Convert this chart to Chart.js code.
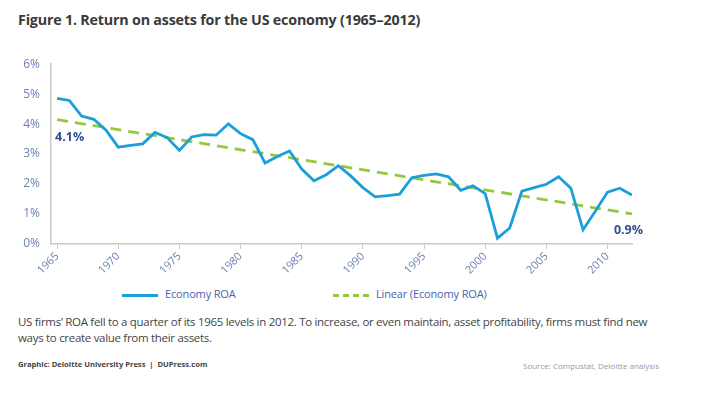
<!DOCTYPE html>
<html>
<head>
<meta charset="utf-8">
<script src="https://cdn.jsdelivr.net/npm/chart.js@4"></script>
<style>
  body { margin: 0; background: #fff; width: 708px; height: 398px; position: relative; overflow: hidden;
         font-family: "Open Sans", sans-serif; }
  #title { position: absolute; left: 18px; top: 10px; font-weight: bold;
           font-size: 14.3px; color: #3a3a3a; letter-spacing: -0.2px; }
  #wrap { position: absolute; left: 0; top: 46px; width: 708px; height: 232px; }
  .leg { position: absolute; top: 286px; font-size: 11px; letter-spacing: -0.15px; color: #4a64a8; }
  .leg span { display: inline-block; width: 36px; height: 0; vertical-align: middle; margin-right: 7px; }
  #caption { position: absolute; left: 18px; top: 314px; font-size: 11.5px; letter-spacing: -0.3px;
             line-height: 15.5px; color: #444; white-space: nowrap; }
  #credit { position: absolute; left: 18px; top: 359px; font-size: 7.6px; font-weight: bold; color: #444; }
  #source { position: absolute; left: 523px; top: 360px; font-size: 8px; color: #999; }
</style>
</head>
<body>
<div id="title">Figure 1. Return on assets for the US economy (1965–2012)</div>
<div id="wrap"><canvas id="myChart"></canvas></div>
<div class="leg" style="left:122px"><span style="border-top:3px solid #1a9fd8"></span>Economy ROA</div>
<div class="leg" style="left:333px"><span style="border-top:3px dashed #95c93d"></span>Linear (Economy ROA)</div>
<div id="caption">US firms’ ROA fell to a quarter of its 1965 levels in 2012. To increase, or even maintain, asset profitability, firms must find new<br>ways to create value from their assets.</div>
<div id="credit">Graphic: Deloitte University Press &nbsp;|&nbsp; DUPress.com</div>
<div id="source">Source: Compustat, Deloitte analysis</div>

<script>
// years 1965 - 2012
const years = [
    1965, 1966, 1967, 1968, 1969, 1970, 1971, 1972, 1973, 1974,
    1975, 1976, 1977, 1978, 1979, 1980, 1981, 1982, 1983, 1984,
    1985, 1986, 1987, 1988, 1989, 1990, 1991, 1992, 1993, 1994,
    1995, 1996, 1997, 1998, 1999, 2000, 2001, 2002, 2003, 2004,
    2005, 2006, 2007, 2008, 2009, 2010, 2011, 2012
];

// Economy ROA in percent
const roa = [
    4.86, 4.79, 4.27, 4.16, 3.80, 3.23, 3.29, 3.34, 3.72, 3.55,
    3.12, 3.57, 3.65, 3.63, 4.01, 3.68, 3.48, 2.70, 2.92, 3.10,
    2.50, 2.11, 2.31, 2.61, 2.27, 1.88, 1.57, 1.61, 1.66, 2.21,
    2.29, 2.34, 2.24, 1.79, 1.94, 1.68, 0.19, 0.53, 1.76, 1.88,
    1.99, 2.24, 1.86, 0.47, 1.09, 1.73, 1.86, 1.63
];

// trend line end points (1965 and 2012), the rest is left empty
const trendStart = 4.15;
const trendEnd = 1.0;
const trend = years.map((y, i) => i === 0 ? trendStart : (i === years.length - 1 ? trendEnd : null));

const xTicks = [1965, 1970, 1975, 1980, 1985, 1990, 1995, 2000, 2005, 2010];
const yTicks = [0, 1, 2, 3, 4, 5, 6];
const axisColor = '#c9c9c9';
const tickColor = '#6b80b4';

// draws the 4.1% / 0.9% labels next to the trend ends
const endLabels = {
    id: 'endLabels',
    afterDatasetsDraw(chart) {
        const {ctx, scales: {x, y}} = chart;
        ctx.save();
        ctx.font = 'bold 12.5px "Open Sans", sans-serif';
        ctx.fillStyle = '#2f4f8f';
        ctx.textBaseline = 'middle';
        ctx.textAlign = 'left';
        ctx.fillText('4.1%', x.getPixelForValue(years[0]) - 2, y.getPixelForValue(trendStart) + 18);
        ctx.textAlign = 'right';
        ctx.fillText('0.9%', x.getPixelForValue(years[years.length - 1]) + 11, y.getPixelForValue(trendEnd) + 17);
        ctx.restore();
    }
};

let ctx = document.getElementById('myChart').getContext('2d');

let myChart = new Chart(ctx, {
    type: 'line',
    data: {
        labels: years,
        datasets: [{
            label: 'Economy ROA',
            data: roa,
            borderColor: '#1a9fd8',
            borderWidth: 2.8,
            pointRadius: 0,
            tension: 0,
            fill: false
        }, {
            label: 'Linear (Economy ROA)',
            data: trend,
            borderColor: '#95c93d',
            borderWidth: 2.8,
            borderDash: [11, 7],
            pointRadius: 0,
            spanGaps: true,
            fill: false
        }]
    },
    options: {
        responsive: true,
        maintainAspectRatio: false,
        animation: false,
        layout: {
            padding: {top: 10, right: 76, bottom: 0, left: 0}
        },
        plugins: {
            legend: {display: false},
            tooltip: {enabled: false}
        },
        scales: {
            x: {
                type: 'linear',
                min: 1964.5,
                max: 2012,
                afterBuildTicks: (scale) => { scale.ticks = xTicks.map(v => ({value: v})); },
                grid: {
                    drawOnChartArea: false,
                    tickLength: 5,
                    color: axisColor
                },
                border: {color: axisColor, width: 1.5},
                ticks: {
                    autoSkip: false,
                    maxRotation: 45,
                    minRotation: 45,
                    padding: 1,
                    color: tickColor,
                    font: {family: '"Open Sans", sans-serif', size: 11},
                    callback: (v) => String(v)
                }
            },
            y: {
                min: 0,
                max: 6,
                afterFit: (scale) => { scale.width = 51; },
                afterBuildTicks: (scale) => { scale.ticks = yTicks.map(v => ({value: v})); },
                grid: {display: false, drawTicks: false},
                border: {color: axisColor, width: 1.5},
                ticks: {
                    padding: 11,
                    color: tickColor,
                    font: {family: '"Open Sans", sans-serif', size: 12},
                    callback: (v) => v + '%'
                }
            }
        }
    },
    plugins: [endLabels]
});
</script>
</body>
</html>
